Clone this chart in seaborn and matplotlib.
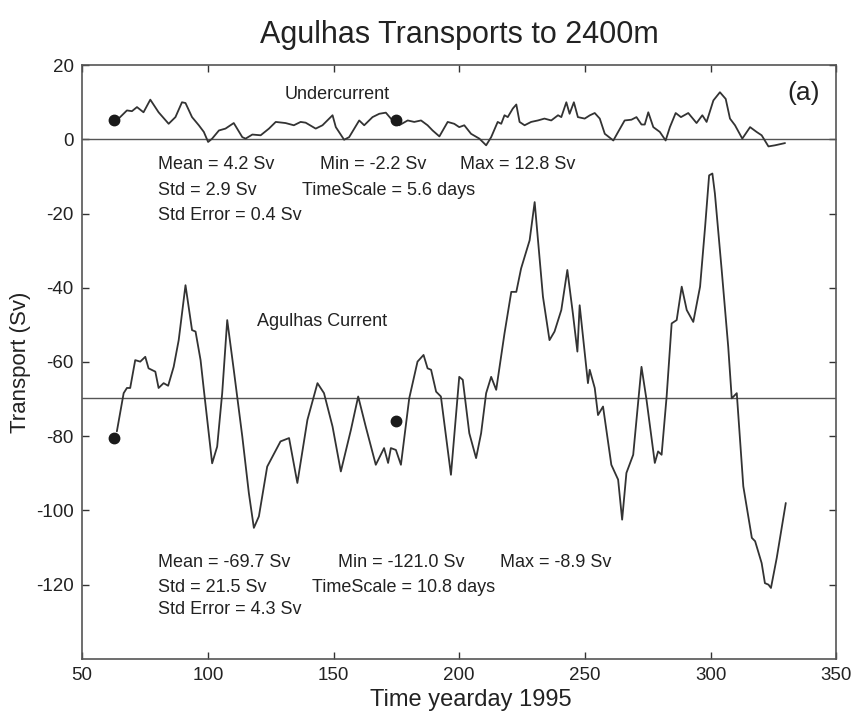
import seaborn as sns
import pandas as pd
import matplotlib.pyplot as plt
import numpy as np

##############################################
# Undercurrent transport (Sv) vs yearday 1995
under_days = [64.5, 67.8, 69.8, 71.8, 74.4, 77.1, 80.4, 84.4, 87.1, 89.7, 91.1, 93.7,
              96.4, 98.4, 100.1, 101.7, 104.4, 107.0, 110.3, 113.7, 115.0, 117.7, 121.0,
              124.3, 127.0, 130.9, 134.2, 136.9, 138.9, 142.9, 145.6, 149.6, 150.9, 154.2,
              156.2, 160.2, 162.2, 165.5, 168.2, 170.8, 172.8, 176.1, 179.5, 182.1, 184.8,
              187.4, 189.4, 192.1, 195.4, 198.0, 200.0, 202.0, 204.7, 208.0, 210.7, 212.7,
              215.3, 216.7, 218.0, 219.3, 221.3, 222.7, 224.0, 226.0, 228.6, 231.3, 233.9,
              236.6, 239.3, 240.6, 242.6, 243.9, 245.6, 247.2, 249.9, 252.0, 253.9, 255.9,
              257.9, 261.3, 263.2, 265.8, 268.5, 270.5, 272.5, 273.8, 275.2, 277.2, 279.8,
              282.1, 283.8, 286.1, 288.2, 291.1, 294.4, 296.7, 298.4, 301.1, 303.7, 306.0,
              307.7, 309.7, 312.6, 315.7, 318.3, 320.3, 323.0, 325.6, 329.6]
under_sv = [5.6, 7.8, 7.6, 8.7, 7.3, 10.7, 7.3, 4.2, 6.0, 10.0, 9.8, 6.0,
            3.8, 2.0, -0.7, 0.2, 2.4, 2.9, 4.4, 0.6, 0.2, 1.3, 1.1,
            2.9, 4.7, 4.4, 3.8, 4.7, 4.5, 2.9, 3.8, 6.5, 3.3, -0.1,
            0.6, 5.1, 3.8, 6.0, 6.9, 7.2, 5.6, 3.8, 5.1, 4.7, 5.1,
            3.8, 2.4, 0.8, 4.7, 4.2, 3.3, 3.8, 1.5, 0.2, -1.6, 0.6,
            4.7, 4.2, 6.5, 6.0, 8.3, 9.4, 4.7, 3.8, 4.7, 5.1, 5.6,
            5.1, 6.5, 6.0, 10.0, 6.9, 10.0, 6.0, 5.6, 6.5, 7.1, 5.6,
            1.5, -0.3, 2.0, 5.1, 5.3, 6.0, 4.0, 4.0, 7.3, 3.3, 2.0,
            -0.3, 3.3, 7.1, 6.0, 7.1, 4.4, 6.5, 4.7, 10.5, 12.7, 10.9,
            5.6, 3.8, 0.2, 3.3, 2.0, 1.1, -1.9, -1.6, -1.0]

# Agulhas Current transport (Sv) vs yearday 1995
agul_days = [63.8, 66.5, 67.8, 69.1, 71.1, 73.1, 75.1, 76.4, 79.1, 80.4, 82.4, 84.2,
             86.4, 88.4, 91.1, 93.7, 95.1, 97.1, 98.4, 101.7, 103.7, 105.7, 107.7, 110.3,
             113.7, 116.3, 118.3, 120.3, 123.6, 125.0, 128.9, 132.3, 135.6, 139.6, 143.6,
             146.2, 149.6, 152.9, 156.9, 159.8, 162.8, 166.8, 170.1, 171.7, 172.8, 174.8,
             176.8, 180.1, 183.4, 185.8, 187.4, 188.8, 190.8, 192.7, 196.7, 200.0, 201.4,
             204.0, 206.7, 208.7, 210.7, 212.7, 214.7, 218.0, 220.7, 222.7, 224.6, 228.0,
             230.0, 233.3, 235.9, 237.9, 240.6, 243.0, 245.2, 247.0, 247.9, 251.2, 251.9,
             253.9, 255.2, 257.2, 260.5, 263.2, 264.8, 266.5, 269.2, 272.5, 274.5, 277.8,
             279.1, 280.5, 282.5, 284.5, 286.5, 288.5, 290.5, 293.1, 295.8, 297.8, 299.4,
             300.7, 301.7, 304.4, 307.0, 308.4, 310.4, 313.0, 316.4, 317.7, 320.3, 321.6,
             323.0, 324.0, 326.3, 329.9]
agul_sv = [-78.7, -68.4, -67.0, -67.0, -59.5, -59.9, -58.6, -61.7, -62.6, -67.0, -65.7, -66.4,
           -61.3, -54.1, -39.3, -51.4, -51.8, -59.5, -67.5, -87.3, -82.8, -68.4, -48.7, -62.1,
           -80.1, -95.3, -104.7, -101.6, -88.2, -86.4, -81.4, -80.5, -92.6, -75.6, -65.7,
           -68.4, -77.4, -89.5, -78.3, -69.3, -77.4, -87.7, -83.2, -87.2, -83.2, -83.7,
           -87.7, -69.8, -59.9, -58.1, -61.7, -62.1, -68.0, -69.3, -90.4, -64.0, -64.8,
           -79.2, -85.9, -79.2, -68.4, -64.0, -67.5, -52.3, -41.1, -41.1, -34.8, -27.2,
           -16.9, -42.4, -54.1, -51.8, -46.0, -35.2, -46.9, -57.2, -44.7, -65.7, -62.1,
           -67.0, -74.3, -72.0, -87.7, -91.7, -102.5, -89.9, -85.0, -61.3, -70.2, -87.2,
           -84.1, -85.0, -69.3, -49.6, -48.7, -39.7, -46.0, -49.2, -39.7, -23.6, -9.7,
           -9.2, -14.6, -35.2, -55.9, -69.8, -68.4, -93.5, -107.4, -108.3, -114.2, -119.6,
           -120.0, -120.9, -112.8, -98.0]

# marker dots
dot_days = [62.5, 174.8]
dot_under = [5.1, 5.3]
dot_agul = [-80.5, -76.0]

# reference lines
under_ref = 0.0
agul_mean = -69.7

under_stats = ["Mean = 4.2 Sv", "Min = -2.2 Sv", "Max = 12.8 Sv",
               "Std = 2.9 Sv", "TimeScale = 5.6 days", "Std Error = 0.4 Sv"]
agul_stats = ["Mean = -69.7 Sv", "Min = -121.0 Sv", "Max = -8.9 Sv",
              "Std = 21.5 Sv", "TimeScale = 10.8 days", "Std Error = 4.3 Sv"]

x_ticks = [50, 100, 150, 200, 250, 300, 350]
y_ticks = [-120, -100, -80, -60, -40, -20, 0, 20]

##############################################
sns.set_style("ticks")
plt.rcParams["font.family"] = ["Liberation Sans", "DejaVu Sans"]
plt.rcParams["axes.unicode_minus"] = False

line_col = "#333333"
fig, ax = plt.subplots(figsize=(8.56, 7.24), dpi=100)
fig.subplots_adjust(left=0.096, right=0.977, bottom=0.09, top=0.91)

df_u = pd.DataFrame({"day": under_days, "sv": under_sv})
df_a = pd.DataFrame({"day": agul_days, "sv": agul_sv})

sns.lineplot(data=df_u, x="day", y="sv", ax=ax, color=line_col, lw=1.3,
             estimator=None, sort=False, errorbar=None)
sns.lineplot(data=df_a, x="day", y="sv", ax=ax, color=line_col, lw=1.3,
             estimator=None, sort=False, errorbar=None)

ax.axhline(under_ref, color="#555555", lw=1.0, zorder=1)
ax.axhline(agul_mean, color="#555555", lw=1.0, zorder=1)

ax.plot(dot_days, dot_under, "o", color="#1a1a1a", ms=7.5)
ax.plot(dot_days, dot_agul, "o", color="#1a1a1a", ms=7.5)

# labels in the plot
txt_kw = dict(fontsize=13, color="#222222", va="center")
ax.text(151.5, 12.0, "Undercurrent", ha="center", **txt_kw)
ax.text(145.5, -49.2, "Agulhas Current", ha="center", **txt_kw)

# stats blocks: (mean x, min x, max x, timescale x) and row heights
layouts = [(under_stats, (80.2, 144.7, 200.4, 137.4), (-6.9, -13.7, -20.5)),
           (agul_stats, (80.2, 151.9, 216.3, 141.4), (-114.1, -120.8, -126.8))]
for stats, xs, rows in layouts:
    ax.text(xs[0], rows[0], stats[0], ha="left", **txt_kw)
    ax.text(xs[1], rows[0], stats[1], ha="left", **txt_kw)
    ax.text(xs[2], rows[0], stats[2], ha="left", **txt_kw)
    ax.text(xs[0], rows[1], stats[3], ha="left", **txt_kw)
    ax.text(xs[3], rows[1], stats[4], ha="left", **txt_kw)
    ax.text(xs[0], rows[2], stats[5], ha="left", **txt_kw)

ax.text(337, 12.4, "(a)", ha="center", va="center", fontsize=19, color="#222222")

ax.set_xlim(50, 350)
ax.set_ylim(-140, 20)
ax.set_xticks(x_ticks)
ax.set_yticks(y_ticks)
ax.tick_params(direction="in", length=5, width=1, top=True, right=True,
               labelsize=13.5, colors="#333333", labelcolor="#222222", pad=6)
for sp in ax.spines.values():
    sp.set_color("#555555")
    sp.set_linewidth(1.2)

ax.set_xlabel("Time yearday 1995", fontsize=17, color="#222222")
ax.xaxis.set_label_coords(0.516, -0.05)
ax.set_ylabel("Transport (Sv)", fontsize=16, color="#222222", labelpad=4)
ax.set_title("Agulhas Transports to 2400m", fontsize=22, color="#222222", pad=16)

plt.savefig("out.png", dpi=100)
plt.close()
